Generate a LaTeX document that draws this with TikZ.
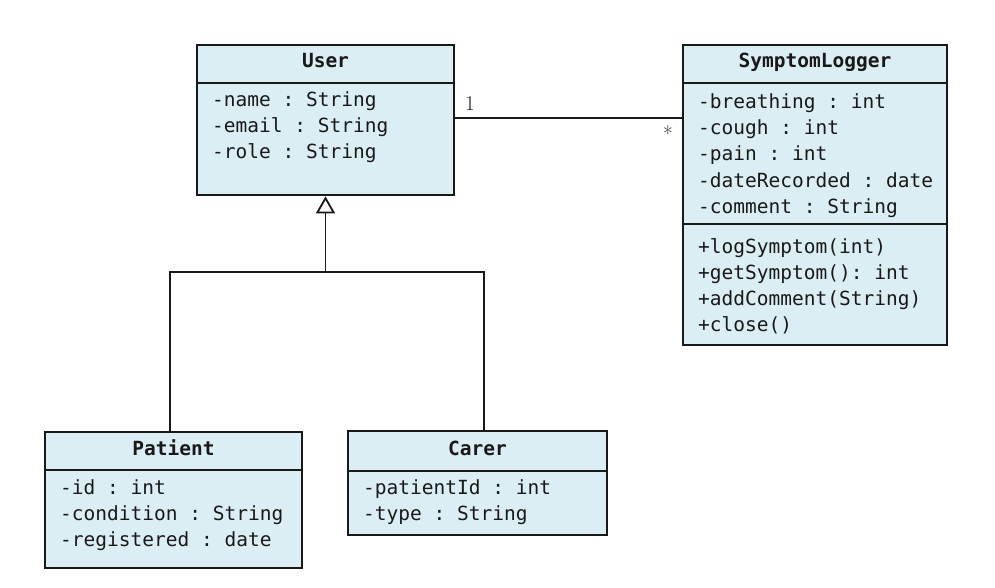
\documentclass[tikz,border=0pt]{standalone}
\usepackage{fontspec}
\setmonofont{DejaVu Sans Mono}
\usetikzlibrary{arrows.meta}
\definecolor{boxfill}{RGB}{219,238,244}
\definecolor{ink}{RGB}{25,25,25}
\tikzset{
  umlbox/.style={draw=ink, line width=2.8pt, fill=boxfill, rectangle, inner sep=0pt},
  divider/.style={draw=ink, line width=2.6pt},
  conn/.style={draw=ink, line width=1.8pt},
  attr/.style={anchor=base west, inner sep=0pt, font=\ttfamily\fontsize{19.5}{26}\selectfont, text=ink},
  head/.style={anchor=base, inner sep=0pt, font=\ttfamily\bfseries\fontsize{19.5}{26}\selectfont, text=ink},
  mult/.style={inner sep=0pt, font=\fontsize{21}{24}\selectfont, text=ink}
}
\begin{document}
\begin{tikzpicture}[x=1pt, y=-1pt]
\useasboundingbox (0,0) rectangle (995,588);
\fill[white] (0,0) rectangle (995,588);

% User
\node[umlbox, minimum width=257pt, minimum height=150pt] (user) at (325.5,120) {};
\draw[divider] (user.west |- 0,83) -- (user.east |- 0,83);
\node[head] (userh) at (325.5,68) {User};
\node[attr] (u1) at (212,107) {-name : String};
\node[attr] (u2) at (212,133) {-email : String};
\node[attr] (u3) at (212,159) {-role : String};

% SymptomLogger
\node[umlbox, minimum width=264pt, minimum height=300pt] (logger) at (815,195) {};
\draw[divider] (logger.west |- 0,83) -- (logger.east |- 0,83);
\draw[divider] (logger.west |- 0,224) -- (logger.east |- 0,224);
\node[head] (loggerh) at (815,68) {SymptomLogger};
\node[attr] (l1) at (698,109) {-breathing : int};
\node[attr] (l2) at (698,135) {-cough : int};
\node[attr] (l3) at (698,161) {-pain : int};
\node[attr] (l4) at (698,187) {-dateRecorded : date};
\node[attr] (l5) at (698,213) {-comment : String};
\node[attr] (m1) at (698,253) {+logSymptom(int)};
\node[attr] (m2) at (698,279) {+getSymptom(): int};
\node[attr] (m3) at (698,305) {+addComment(String)};
\node[attr] (m4) at (698,331) {+close()};

% Patient
\node[umlbox, minimum width=257pt, minimum height=136pt] (patient) at (173.5,500) {};
\draw[divider] (patient.west |- 0,470) -- (patient.east |- 0,470);
\node[head] (patienth) at (173.5,455) {Patient};
\node[attr] (p1) at (60,494) {-id : int};
\node[attr] (p2) at (60,520) {-condition : String};
\node[attr] (p3) at (60,546) {-registered : date};

% Carer
\node[umlbox, minimum width=259pt, minimum height=104pt] (carer) at (477.5,483) {};
\draw[divider] (carer.west |- 0,471) -- (carer.east |- 0,471);
\node[head] (carerh) at (477.5,455) {Carer};
\node[attr] (c1) at (363,494) {-patientId : int};
\node[attr] (c2) at (363,520) {-type : String};

% Generalisation
\coordinate (bus) at (325.5,272);
\draw[conn, -{Triangle[open, width=19pt, length=17pt, line width=1.8pt]}] (bus) -- (user.south);
\draw[conn] ([xshift=-3.5pt]patient.north) |- (bus) -| ([xshift=6.5pt]carer.north);

% Association
\draw[conn] (user.east |- 0,118) -- (logger.west |- 0,118);
\node[mult] (one) at (470,104) {1};
\node[mult] (many) at (668,134) {*};
\end{tikzpicture}
\end{document}
